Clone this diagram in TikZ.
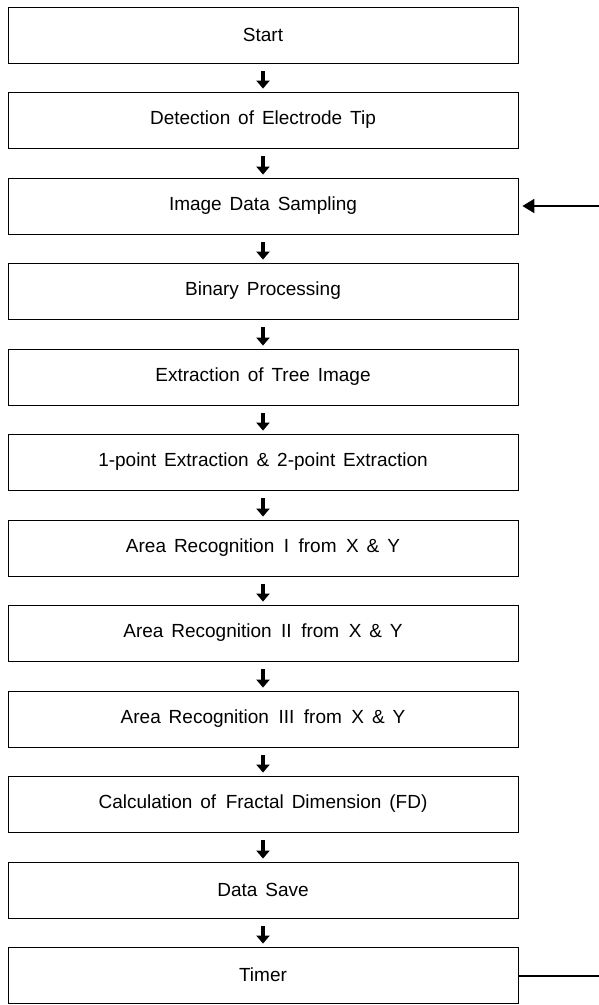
\documentclass[tikz,border=0pt]{standalone}
\usepackage{fontspec}
\setmainfont{Liberation Sans}[WordSpace=1.5]
\usetikzlibrary{arrows.meta,positioning}

\begin{document}
\begin{tikzpicture}[x=1pt, y=-1pt, font=\fontsize{19}{22}\selectfont,
    stepbox/.style={draw, line width=0.8pt, minimum width=510pt, minimum height=56pt, inner sep=0pt},
    flow/.style={line width=4pt, -{Triangle[width=13pt,length=8pt]}, shorten <=8pt, shorten >=3pt},
    loopback/.style={line width=1.6pt}]
      \useasboundingbox (0,0) rectangle (599,1005);
      \node[stepbox] (start) at (263,35) {Start};
      \node[stepbox] (tip) at (263,120) {Detection of Electrode Tip};
      \node[stepbox] (sampling) at (263,206) {Image Data Sampling};
      \node[stepbox] (binary) at (263,291) {Binary Processing};
      \node[stepbox] (tree) at (263,377) {Extraction of Tree Image};
      \node[stepbox] (points) at (263,462) {1-point Extraction \& 2-point Extraction};
      \node[stepbox] (areaI) at (263,548) {Area Recognition\enspace I\enspace from\enspace X \& Y};
      \node[stepbox] (areaII) at (263,633) {Area Recognition\enspace II\enspace from\enspace X \& Y};
      \node[stepbox] (areaIII) at (263,719) {Area Recognition\enspace III\enspace from\enspace X \& Y};
      \node[stepbox] (fd) at (263,804) {Calculation of\enspace Fractal Dimension (FD)};
      \node[stepbox] (save) at (263,890) {Data Save};
      \node[stepbox] (timer) at (263,975) {Timer};
      \draw[flow] (start) -- (tip); \draw[flow] (tip) -- (sampling);
      \draw[flow] (sampling) -- (binary); \draw[flow] (binary) -- (tree);
      \draw[flow] (tree) -- (points); \draw[flow] (points) -- (areaI);
      \draw[flow] (areaI) -- (areaII); \draw[flow] (areaII) -- (areaIII);
      \draw[flow] (areaIII) -- (fd); \draw[flow] (fd) -- (save);
      \draw[flow] (save) -- (timer);
      % feedback stubs at the right edge
      \coordinate (fbout) at (599,976);
      \coordinate (fbin) at (599,206);
      \draw[loopback] (timer.east |- fbout) -- (fbout);
      \draw[loopback, line width=2pt, -{Triangle[width=14pt,length=12pt]}, shorten >=4pt] (fbin) -- (sampling.east |- fbin);
    \end{tikzpicture}
\end{document}
